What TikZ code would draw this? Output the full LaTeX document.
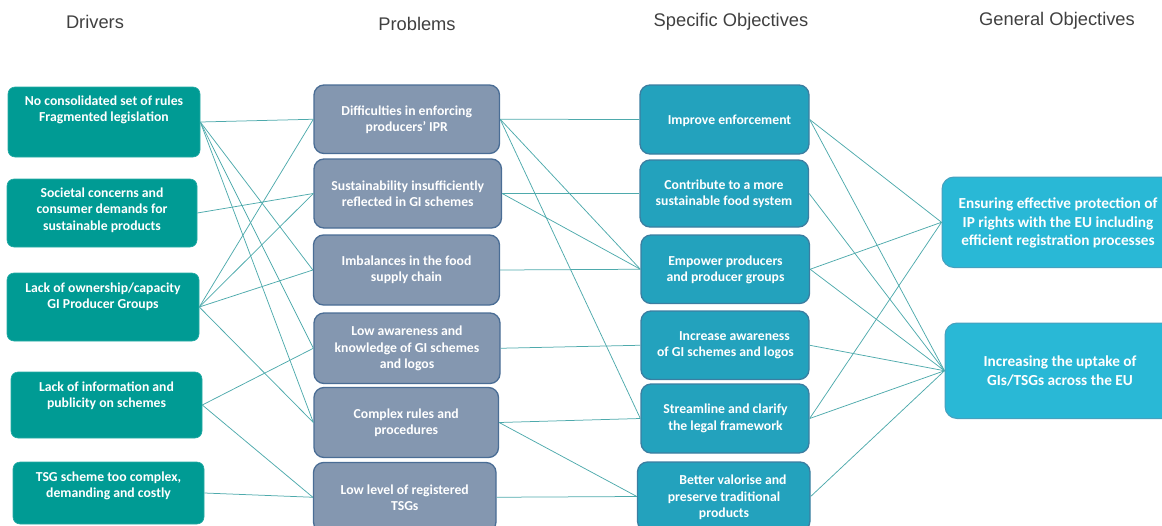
\documentclass[tikz,border=0pt]{standalone}
\usepackage{fontspec}
\setmainfont{Carlito}
\newfontfamily\hdrfont{Liberation Sans}
\definecolor{drvfill}{RGB}{0,155,148}
\definecolor{probfill}{RGB}{132,151,176}
\definecolor{probline}{RGB}{74,109,149}
\definecolor{objfill}{RGB}{35,162,189}
\definecolor{objline}{RGB}{59,126,161}
\definecolor{genfill}{RGB}{41,184,214}
\definecolor{genline}{RGB}{70,160,190}
\definecolor{connc}{RGB}{78,170,172}
\definecolor{hdrc}{RGB}{64,64,64}
\tikzset{
  boxbase/.style={rectangle, inner sep=0pt},
  drv/.style={boxbase, fill=drvfill, draw=drvfill!85!white, line width=0.6pt, rounded corners=7pt},
  prob/.style={boxbase, fill=probfill, draw=probline, line width=1.3pt, rounded corners=10pt},
  obj/.style={boxbase, fill=objfill, draw=objline, line width=1.3pt, rounded corners=10pt},
  gen/.style={boxbase, fill=genfill, draw=genline, line width=1pt, rounded corners=12pt},
  txt/.style={align=center, text=white, inner sep=0pt, font=\bfseries\fontsize{13.7}{16.4}\selectfont},
  gtxt/.style={align=center, text=white, inner sep=0pt, font=\bfseries\fontsize{15.3}{18.3}\selectfont},
  hdr/.style={text=hdrc, inner sep=0pt, font=\hdrfont\fontsize{18.3}{21}\selectfont},
  conn/.style={draw=connc, line width=0.75pt}
}
\begin{document}
\begin{tikzpicture}[x=1pt,y=-1pt]
\useasboundingbox (0,0) rectangle (1162,525);
% headers
\node[hdr] (h1) at (95,22) {Drivers};
\node[hdr] (h2) at (417,24) {Problems};
\node[hdr] (h3) at (731,22) {Specific Objectives};
\node[hdr] (h4) at (1057,21) {General Objectives};
% drivers
\node[drv, minimum width=192pt, minimum height=70pt] (d1) at (104,122) {};
\node[drv, minimum width=190pt, minimum height=68pt] (d2) at (102,213) {};
\node[drv, minimum width=192pt, minimum height=68pt] (d3) at (103,307) {};
\node[drv, minimum width=191pt, minimum height=66pt] (d4) at (106.5,405) {};
\node[drv, minimum width=191pt, minimum height=62pt] (d5) at (108.5,493) {};
\node[txt] (d1t) at (104,110) {No consolidated set of rules\\Fragmented legislation};
\node[txt] (d2t) at (102,210) {Societal concerns and\\consumer demands for\\sustainable products};
\node[txt] (d3t) at (103,297) {Lack of ownership/capacity\\GI Producer Groups};
\node[txt] (d4t) at (106.5,395.5) {Lack of information and\\publicity on schemes};
\node[txt] (d5t) at (108.5,486) {TSG scheme too complex,\\demanding and costly};
% problems
\node[prob, minimum width=185.5pt, minimum height=68.5pt] (p1) at (406.75,119.25) {};
\node[prob, minimum width=187.5pt, minimum height=69pt] (p2) at (407.75,193.5) {};
\node[prob, minimum width=186pt, minimum height=70pt] (p3) at (406.5,270) {};
\node[prob, minimum width=186pt, minimum height=70.5pt] (p4) at (407,348.25) {};
\node[prob, minimum width=184.5pt, minimum height=70pt] (p5) at (406.25,422.5) {};
\node[prob, minimum width=182.5pt, minimum height=69.5pt] (p6) at (404.75,497.25) {};
\node[txt] (p1t) at (406.75,119.5) {Difficulties in enforcing\\producers’ IPR};
\node[txt] (p2t) at (407.75,194) {Sustainability insufficiently\\reflected in GI schemes};
\node[txt] (p3t) at (406.5,270) {Imbalances in the food\\supply chain};
\node[txt] (p4t) at (407,348.5) {Low awareness and\\knowledge of GI schemes\\and logos};
\node[txt] (p5t) at (406.25,423) {Complex rules and\\procedures};
\node[txt] (p6t) at (404.75,497.5) {Low level of registered\\TSGs};
% specific objectives
\node[obj, minimum width=169pt, minimum height=69pt] (o1) at (724.5,119.5) {};
\node[obj, minimum width=168.5pt, minimum height=67pt] (o2) at (724.25,193.5) {};
\node[obj, minimum width=168.5pt, minimum height=68.5pt] (o3) at (725.25,269.25) {};
\node[obj, minimum width=168pt, minimum height=68.5pt] (o4) at (725,345.25) {};
\node[obj, minimum width=168pt, minimum height=69pt] (o5) at (725,418.5) {};
\node[obj, minimum width=172.5pt, minimum height=69pt] (o6) at (723.75,496.5) {};
\node[txt] (o1t) at (729.5,120.5) {Improve enforcement};
\node[txt] (o2t) at (724,194) {Contribute to a more\\sustainable food system};
\node[txt] (o3t) at (725.5,270) {Empower producers\\and producer groups};
\node[txt] (o4t) at (725.5,345) {\hspace*{18pt}Increase awareness\\of GI schemes and logos};
\node[txt] (o5t) at (725.5,418.5) {Streamline and clarify\\the legal framework};
\node[txt] (o6t) at (724,497.5) {\hspace*{18pt}Better valorise and\\preserve traditional\\products};
% general objectives
\node[gen, minimum width=232pt, minimum height=90.5pt] (g1) at (1058,222.25) {};
\node[gen, minimum width=230pt, minimum height=95.5pt] (g2) at (1060,370.75) {};
\node[gtxt] (g1t) at (1058,223) {Ensuring effective protection of\\IP rights with the EU including\\efficient registration processes};
\node[gtxt] (g2t) at (1060,371) {Increasing the uptake of\\GIs/TSGs across the EU};
% connectors drivers -> problems
\draw[conn] (d1.east) -- (p1.west);
\draw[conn] (d1.east) -- (p3.west);
\draw[conn] (d1.east) -- (p4.west);
\draw[conn] (d1.east) -- (p5.west);
\draw[conn] (d2.east) -- (p2.west);
\draw[conn] (d3.east) -- (p1.west);
\draw[conn] (d3.east) -- (p2.west);
\draw[conn] (d3.east) -- (p3.west);
\draw[conn] (d3.east) -- (p5.west);
\draw[conn] (d4.east) -- (p4.west);
\draw[conn] (d4.east) -- (p6.west);
\draw[conn] (d5.east) -- (p6.west);
% problems -> specific objectives
\draw[conn] (p1.east) -- (o1.west);
\draw[conn] (p1.east) -- (o3.west);
\draw[conn] (p1.east) -- (o5.west);
\draw[conn] (p2.east) -- (o2.west);
\draw[conn] (p2.east) -- (o3.west);
\draw[conn] (p3.east) -- (o3.west);
\draw[conn] (p4.east) -- (o4.west);
\draw[conn] (p5.east) -- (o5.west);
\draw[conn] (p5.east) -- (o6.west);
\draw[conn] (p6.east) -- (o6.west);
% specific -> general objectives
\draw[conn] (o1.east) -- (g1.west);
\draw[conn] (o1.east) -- (g2.west);
\draw[conn] (o2.east) -- (g2.west);
\draw[conn] (o3.east) -- (g1.west);
\draw[conn] (o3.east) -- (g2.west);
\draw[conn] (o4.east) -- (g2.west);
\draw[conn] (o5.east) -- (g1.west);
\draw[conn] (o5.east) -- (g2.west);
\draw[conn] (o6.east) -- (g2.west);
\end{tikzpicture}
\end{document}
